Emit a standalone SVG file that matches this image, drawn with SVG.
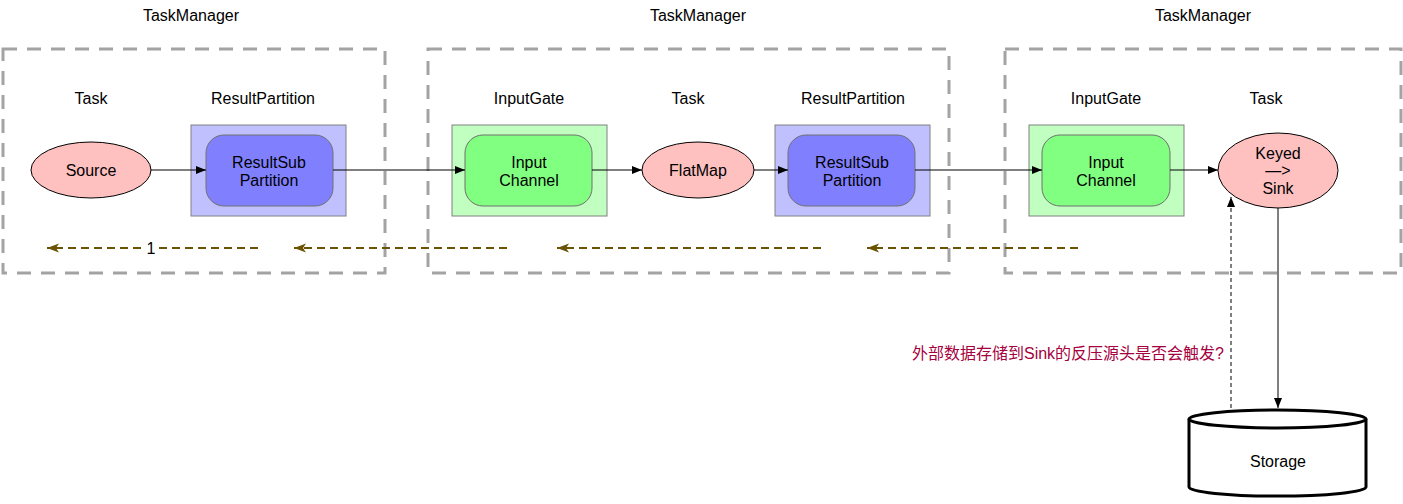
<svg xmlns="http://www.w3.org/2000/svg" width="1403" height="504" viewBox="0 0 1403 504">
<style>
text{font-family:"Liberation Sans",Arial,sans-serif;font-size:16px;fill:#000;text-anchor:middle;dominant-baseline:central}
.tm{fill:none;stroke:#a3a3a3;stroke-width:3;stroke-dasharray:14 10}
.rpo{fill:#c0c0ff;stroke:#808080;stroke-width:1}
.rpi{fill:#8080ff;stroke:#707070;stroke-width:1}
.igo{fill:#c0ffc0;stroke:#808080;stroke-width:1}
.igi{fill:#80ff80;stroke:#707070;stroke-width:1}
.task{fill:#ffc0c0;stroke:#000;stroke-width:1}
.flow{fill:none;stroke:#000;stroke-width:1}
.bp{fill:none;stroke:#6b5300;stroke-width:2;stroke-dasharray:8 5}
.q{fill:#a50040;font-family:"Liberation Sans","Noto Sans CJK SC",sans-serif}
</style>
<defs>
<marker id="ah" viewBox="0 0 10 10" refX="10" refY="5" markerWidth="10" markerHeight="10" markerUnits="userSpaceOnUse" orient="auto"><path d="M0,1 L10,5 L0,9 Z" fill="#000"/></marker>
<marker id="bh" viewBox="0 0 12 10" refX="12" refY="5" markerWidth="12" markerHeight="10" markerUnits="userSpaceOnUse" orient="auto"><path d="M0,0.5 L12,5 L0,9.5 L3,5 Z" fill="#6b5300"/></marker>
</defs>
<g id="tm1">
<rect class="tm" x="3" y="49" width="382" height="224"/>
<text x="191" y="15">TaskManager</text>
<text x="91" y="98">Task</text>
<text x="263" y="98">ResultPartition</text>
</g>
<g id="tm2">
<rect class="tm" x="428" y="49" width="521" height="224"/>
<text x="698" y="15">TaskManager</text>
<text x="529" y="98">InputGate</text>
<text x="688" y="98">Task</text>
<text x="853" y="98">ResultPartition</text>
</g>
<g id="tm3">
<rect class="tm" x="1005" y="49" width="396" height="224"/>
<text x="1203" y="15">TaskManager</text>
<text x="1106" y="98">InputGate</text>
<text x="1266" y="98">Task</text>
</g>
<g id="source">
<ellipse class="task" cx="91" cy="170" rx="60" ry="28"/>
<text x="91" y="170">Source</text>
</g>
<g id="rp1">
<rect class="rpo" x="191" y="125" width="155" height="91"/>
<rect class="rpi" x="206" y="135" width="127" height="71" rx="18"/>
<text x="269" y="162">ResultSub</text>
<text x="269" y="180">Partition</text>
</g>
<g id="ig1">
<rect class="igo" x="452" y="125" width="155" height="91"/>
<rect class="igi" x="465" y="135" width="127" height="71" rx="18"/>
<text x="529" y="162">Input</text>
<text x="529" y="180">Channel</text>
</g>
<g id="flatmap">
<ellipse class="task" cx="698" cy="170" rx="56" ry="28"/>
<text x="698" y="170">FlatMap</text>
</g>
<g id="rp2">
<rect class="rpo" x="775" y="125" width="155" height="91"/>
<rect class="rpi" x="788" y="135" width="127" height="71" rx="18"/>
<text x="852" y="162">ResultSub</text>
<text x="852" y="180">Partition</text>
</g>
<g id="ig2">
<rect class="igo" x="1029" y="125" width="155" height="91"/>
<rect class="igi" x="1042" y="135" width="128" height="71" rx="18"/>
<text x="1106" y="162">Input</text>
<text x="1106" y="180">Channel</text>
</g>
<g id="sink">
<ellipse class="task" cx="1278" cy="170.5" rx="60" ry="37.5"/>
<text x="1278" y="153">Keyed</text>
<text x="1278" y="170">—&gt;</text>
<text x="1278" y="188">Sink</text>
</g>
<g id="storage">
<path d="M1189,419 L1189,487 A88,9 0 0 0 1366,487 L1366,419" fill="#fff" stroke="#000" stroke-width="3"/>
<ellipse cx="1277.5" cy="419" rx="88.5" ry="9" fill="#fff" stroke="#000" stroke-width="3"/>
<text x="1278" y="461">Storage</text>
</g>
<g id="connectors">
<path class="flow" d="M151,170 L206,170" marker-end="url(#ah)"/>
<path class="flow" d="M333,170 L465,170" marker-end="url(#ah)"/>
<path class="flow" d="M592,170 L642,170" marker-end="url(#ah)"/>
<path class="flow" d="M754,170 L788,170" marker-end="url(#ah)"/>
<path class="flow" d="M915,170 L1042,170" marker-end="url(#ah)"/>
<path class="flow" d="M1170,170 L1218,170" marker-end="url(#ah)"/>
<path class="flow" d="M1278,208 L1278,408" marker-end="url(#ah)"/>
<path class="flow" d="M1231,408 L1231,197" stroke="#222" stroke-dasharray="4 3" marker-end="url(#ah)"/>
<path class="bp" d="M258,248 L47,248" marker-end="url(#bh)"/>
<rect x="145" y="240" width="12" height="16" fill="#fff"/>
<text x="151" y="248">1</text>
<path class="bp" d="M507,248 L294,248" marker-end="url(#bh)"/>
<path class="bp" d="M821,248 L557,248" marker-end="url(#bh)"/>
<path class="bp" d="M1078,248 L867,248" marker-end="url(#bh)"/>
<text class="q" x="1068" y="353">外部数据存储到Sink的反压源头是否会触发?</text>
</g>
</svg>
